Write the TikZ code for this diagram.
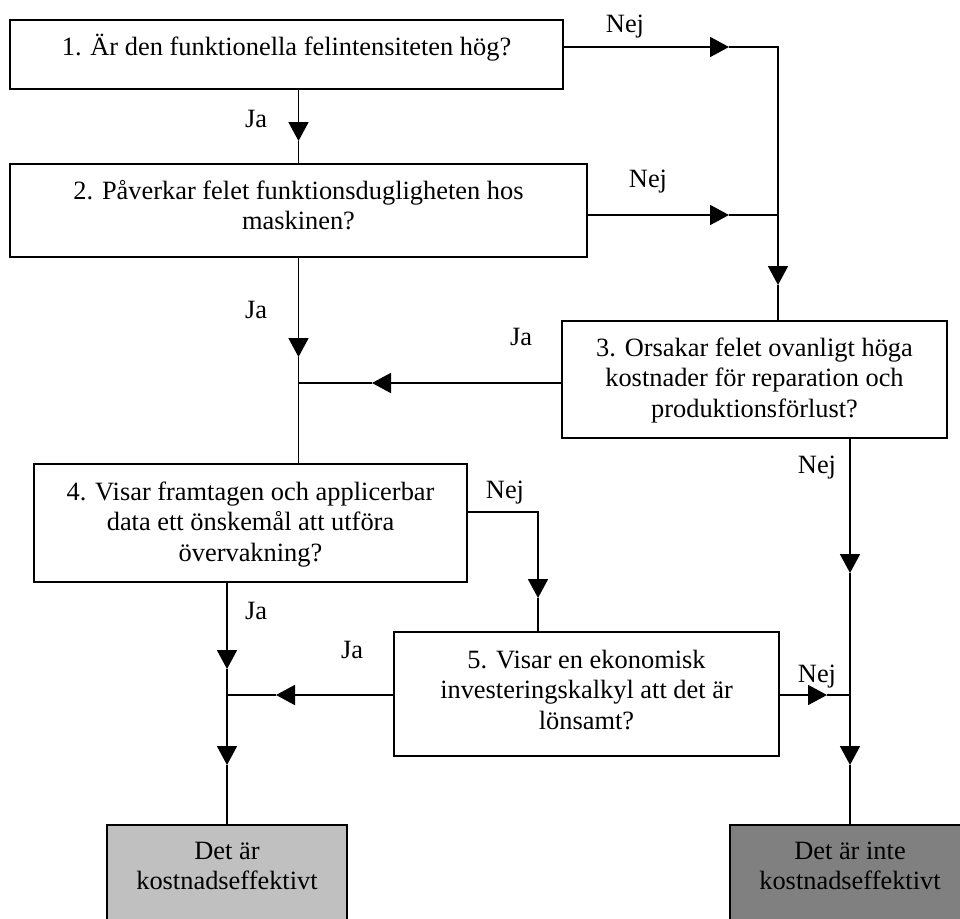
\documentclass[tikz,border=0pt]{standalone}
\usepackage{fontspec}
\setmainfont{Liberation Serif}
\usetikzlibrary{arrows.meta}
\definecolor{lightbox}{RGB}{192,192,192}
\definecolor{darkbox}{RGB}{128,128,128}
\newcommand{\mlines}[1]{\begin{tabular}[t]{@{}c@{}}#1\end{tabular}}
\begin{document}
\begin{tikzpicture}[x=1pt,y=-1pt,
  box/.style={draw,line width=1.8pt,inner sep=0pt},
  txt/.style={anchor=base,inner sep=0pt,font=\fontsize{26.4}{30.5}\selectfont},
  lbl/.style={anchor=base,inner sep=0pt,font=\fontsize{26.4}{30.5}\selectfont},
  conn/.style={line width=1.8pt},
  tip/.style={conn,-{Triangle[length=19pt,width=20pt]}}]
\useasboundingbox (0,0) rectangle (960,918);
\clip (0,0) rectangle (960,918);
% boxes
\node[box,minimum width=553pt,minimum height=69pt] (b1) at (286.5,54.5) {};
\node[box,minimum width=577pt,minimum height=93pt] (b2) at (298.5,210.5) {};
\node[box,minimum width=385pt,minimum height=117pt] (b3) at (754.5,379.5) {};
\node[box,minimum width=433pt,minimum height=118pt] (b4) at (250.5,523) {};
\node[box,minimum width=385pt,minimum height=124pt] (b5) at (586.5,694) {};
\node[box,fill=lightbox,minimum width=240pt,minimum height=150pt] (g1) at (227,900) {};
\node[box,fill=darkbox,minimum width=240pt,minimum height=150pt] (g2) at (850,900) {};
% box texts
\node[txt] (t1) at (286.5,55) {1. Är den funktionella felintensiteten hög?};
\node[txt] (t2) at (298.5,199) {\mlines{2. Påverkar felet funktionsdugligheten hos\\maskinen?}};
\node[txt] (t3) at (754.5,356) {\mlines{3. Orsakar felet ovanligt höga\\kostnader för reparation och\\produktionsförlust?}};
\node[txt] (t4) at (250.5,500) {\mlines{4. Visar framtagen och applicerbar\\data ett önskemål att utföra\\övervakning?}};
\node[txt] (t5) at (586.5,668) {\mlines{5. Visar en ekonomisk\\investeringskalkyl att det är\\lönsamt?}};
\node[txt] (tg1) at (227,859) {\mlines{Det är\\kostnadseffektivt}};
\node[txt] (tg2) at (850,859) {\mlines{Det är inte\\kostnadseffektivt}};
% junctions and arrow tips
\coordinate (j1) at (778,47);
\coordinate (j2) at (778,215);
\coordinate (j3) at (298.5,383);
\coordinate (j4) at (227,695);
\coordinate (j5) at (850,695);
\coordinate (c1) at (538,512);
\coordinate (a1) at (298.5,141);
\coordinate (n1) at (729,47);
\coordinate (n2) at (729,215);
\coordinate (a2) at (778,285);
\coordinate (a3) at (298.5,357);
\coordinate (a4) at (372,383);
\coordinate (a5) at (538,598);
\coordinate (a6) at (227,669);
\coordinate (a7) at (227,765);
\coordinate (a8) at (276,695);
\coordinate (a9) at (827,695);
\coordinate (a10) at (850,573);
\coordinate (a11) at (850,765);
% connectors
\draw[tip] (b1.south -| b2.north) -- (a1);
\draw[conn] (a1) -- (b2.north);
\draw[tip] (b1.east |- j1) -- (n1);
\draw[conn] (n1) -- (j1) -- (j2);
\draw[tip] (b2.east |- j2) -- (n2);
\draw[conn] (n2) -- (j2);
\draw[tip] (j2) -- (a2);
\draw[conn] (a2) -- (b3.north -| j1);
\draw[tip] (b2.south) -- (a3);
\draw[conn] (a3) -- (b2.south |- b4.north);
\draw[tip] (b3.west |- j3) -- (a4);
\draw[conn] (a4) -- (j3);
\draw[tip] (b4.east |- c1) -- (c1) -- (a5);
\draw[conn] (a5) -- (b5.north -| c1);
\draw[tip] (b4.south -| g1.north) -- (a6);
\draw[conn] (a6) -- (j4);
\draw[tip] (j4) -- (a7);
\draw[conn] (a7) -- (g1.north);
\draw[tip] (b5.west |- j4) -- (a8);
\draw[conn] (a8) -- (j4);
\draw[tip] (b5.east |- j5) -- (a9);
\draw[conn] (a9) -- (j5);
\draw[tip] (b3.south -| g2.north) -- (a10);
\draw[conn] (a10) -- (j5);
\draw[tip] (j5) -- (a11);
\draw[conn] (a11) -- (g2.north);
% labels
\node[lbl] (l1) at (625,32) {Nej};
\node[lbl] (l2) at (648,187) {Nej};
\node[lbl] (l3) at (256,127) {Ja};
\node[lbl] (l4) at (256,318) {Ja};
\node[lbl] (l5) at (521,345) {Ja};
\node[lbl] (l6) at (817,473) {Nej};
\node[lbl] (l7) at (505,498) {Nej};
\node[lbl] (l8) at (256,619) {Ja};
\node[lbl] (l9) at (352,658) {Ja};
\node[lbl] (l10) at (817,682) {Nej};
\end{tikzpicture}
\end{document}
